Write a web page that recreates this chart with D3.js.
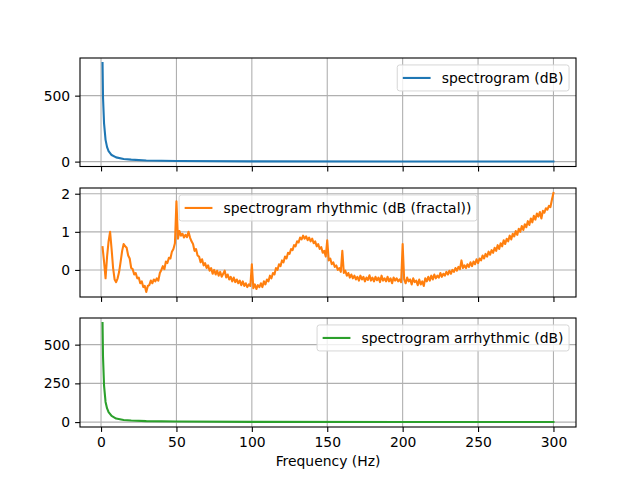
<!DOCTYPE html>
<html>
<head>
<meta charset="utf-8">
<script src="https://cdn.jsdelivr.net/npm/d3@7"></script>
<style>
  body { margin: 0; background: #fff; }
  text { font-family: "DejaVu Sans", sans-serif; }
</style>
</head>
<body>
<div id="chart"></div>
<script>
const width = 640;
const height = 480;
const fontSize = 13.9;

// total spectrogram (dB)
const spectrumFreqs = [1, 1.3, 2, 3, 4, 5, 7, 10, 15, 20, 30, 50, 100, 200, 300];
const spectrumValues = [748, 490, 290, 165, 110, 80, 50, 32, 20, 15, 9, 4, 1.5, 0.6, 0.3];

// arrhythmic part (dB)
const arrhythmicFreqs = [1, 1.3, 2, 3, 4, 5, 7, 10, 15, 20, 30, 50, 100, 200, 300];
const arrhythmicValues = [640, 425, 235, 130, 88, 65, 40, 23, 14, 10, 6, 3.5, 1.5, 0.6, 0.3];

// rhythmic part (dB (fractal)), one value per Hz from 1 to 300
const rhythmicValues = [
  0.6, 0.22, -0.22, 0.35, 0.75, 1.0, 0.55, 0.05, -0.25, -0.32,
  -0.22, -0.05, 0.22, 0.5, 0.68, 0.62, 0.58, 0.38, 0.3, 0.05,
  0.02, -0.12, -0.08, -0.22, -0.2, -0.35, -0.3, -0.45, -0.42, -0.58,
  -0.42, -0.4, -0.28, -0.35, -0.25, -0.3, -0.22, -0.28, -0.08, 0.0,
  0.1, 0.02, 0.22, 0.18, 0.32, 0.3, 0.48, 0.55, 0.7, 1.8,
  0.82, 1.02, 0.9, 0.95, 0.85, 0.92, 0.86, 1.0, 0.85, 0.75,
  0.68, 0.5, 0.55, 0.38, 0.35, 0.2, 0.28, 0.12, 0.18, 0.05,
  0.12, -0.02, 0.05, -0.1, 0.0, -0.12, -0.02, -0.15, -0.05, -0.18,
  -0.1, -0.02, -0.2, -0.12, -0.25, -0.18, -0.3, -0.2, -0.32, -0.25,
  -0.35, -0.28, -0.4, -0.3, -0.42, -0.35, -0.45, -0.38, -0.42, 0.15,
  -0.48, -0.38, -0.5, -0.4, -0.45, -0.35, -0.45, -0.3, -0.38, -0.25,
  -0.3, -0.15, -0.22, -0.08, -0.12, 0.05, 0.0, 0.15, 0.1, 0.25,
  0.2, 0.35, 0.3, 0.45, 0.42, 0.55, 0.52, 0.65, 0.62, 0.75,
  0.72, 0.85, 0.8, 0.9, 0.82, 0.88, 0.78, 0.85, 0.75, 0.82,
  0.7, 0.75, 0.62, 0.68, 0.55, 0.6, 0.45, 0.5, 0.35, 0.78,
  0.25, 0.3, 0.15, 0.2, 0.08, 0.12, 0.0, 0.05, -0.05, 0.5,
  -0.08, -0.02, -0.15, -0.08, -0.2, -0.12, -0.22, -0.15, -0.25, -0.18,
  -0.28, -0.15, -0.25, -0.18, -0.3, -0.2, -0.26, -0.14, -0.28, -0.2,
  -0.3, -0.18, -0.27, -0.2, -0.32, -0.15, -0.28, -0.22, -0.3, -0.18,
  -0.3, -0.22, -0.35, -0.2, -0.28, -0.22, -0.3, -0.25, -0.32, 0.68,
  -0.25, -0.35, -0.2, -0.3, -0.25, -0.38, -0.22, -0.32, -0.28, -0.4,
  -0.25, -0.38, -0.3, -0.42, -0.22, -0.3, -0.18, -0.28, -0.15, -0.25,
  -0.12, -0.22, -0.15, -0.2, -0.08, -0.18, -0.1, -0.15, -0.05, -0.12,
  -0.02, -0.1, 0.0, -0.05, 0.05, -0.02, 0.08, 0.02, 0.25, 0.05,
  0.12, 0.05, 0.15, 0.08, 0.2, 0.1, 0.22, 0.15, 0.28, 0.18,
  0.3, 0.25, 0.38, 0.3, 0.42, 0.35, 0.48, 0.4, 0.52, 0.45,
  0.58, 0.5, 0.65, 0.55, 0.7, 0.62, 0.78, 0.68, 0.82, 0.75,
  0.9, 0.8, 0.95, 0.88, 1.02, 0.92, 1.08, 1.0, 1.15, 1.05,
  1.2, 1.12, 1.28, 1.18, 1.35, 1.25, 1.42, 1.32, 1.48, 1.4,
  1.52, 1.35, 1.55, 1.5, 1.62, 1.58, 1.68, 1.65, 1.85, 2.02,
];
const rhythmicFreqs = d3.range(1, rhythmicValues.length + 1);

const xTicks = [0, 50, 100, 150, 200, 250, 300];

const panels = [
  {
    freqs: spectrumFreqs, values: spectrumValues, color: "#1f77b4",
    label: "spectrogram (dB)", yTicks: [0, 500], legend: "right",
    top: 58, bottom: 166.5,
  },
  {
    freqs: rhythmicFreqs, values: rhythmicValues, color: "#ff7f0e",
    label: "spectrogram rhythmic (dB (fractal))", yTicks: [0, 1, 2], legend: "center",
    top: 188, bottom: 297,
  },
  {
    freqs: arrhythmicFreqs, values: arrhythmicValues, color: "#2ca02c",
    label: "spectrogram arrhythmic (dB)", yTicks: [0, 250, 500], legend: "right",
    top: 318, bottom: 427,
  },
];

const left = 80;
const right = 576;

const svg = d3
  .select("#chart")
  .append("svg")
  .attr("width", width)
  .attr("height", height);

const xExtent = d3.extent(rhythmicFreqs);
const xPad = (xExtent[1] - xExtent[0]) * 0.05;
const x = d3
  .scaleLinear()
  .domain([xExtent[0] - xPad, xExtent[1] + xPad])
  .range([left, right]);

panels.forEach((p, idx) => {
  const isLast = idx === panels.length - 1;
  const [lo, hi] = d3.extent(p.values);
  const pad = (hi - lo) * 0.05;
  const y = d3
    .scaleLinear()
    .domain([lo - pad, hi + pad])
    .range([p.bottom, p.top]);

  const g = svg.append("g");

  // grid
  g.selectAll(".vgrid")
    .data(xTicks)
    .join("line")
    .attr("x1", (d) => x(d))
    .attr("x2", (d) => x(d))
    .attr("y1", p.top)
    .attr("y2", p.bottom)
    .attr("stroke", "#b0b0b0")
    .attr("stroke-width", 1.1);

  g.selectAll(".hgrid")
    .data(p.yTicks)
    .join("line")
    .attr("x1", left)
    .attr("x2", right)
    .attr("y1", (d) => y(d))
    .attr("y2", (d) => y(d))
    .attr("stroke", "#b0b0b0")
    .attr("stroke-width", 1.1);

  // data line
  const line = d3
    .line()
    .x((d) => x(d[0]))
    .y((d) => y(d[1]));

  g.append("path")
    .datum(d3.zip(p.freqs, p.values))
    .attr("d", line)
    .attr("fill", "none")
    .attr("stroke", p.color)
    .attr("stroke-width", 2.08)
    .attr("stroke-linejoin", "round")
    .attr("stroke-linecap", "square");

  // axes
  const xAxis = d3
    .axisBottom(x)
    .tickValues(xTicks)
    .tickSizeInner(4.9)
    .tickSizeOuter(0)
    .tickPadding(4.9)
    .tickFormat(isLast ? d3.format("d") : () => "");

  const yAxis = d3
    .axisLeft(y)
    .tickValues(p.yTicks)
    .tickSizeInner(4.9)
    .tickSizeOuter(0)
    .tickPadding(4.9)
    .tickFormat(d3.format("d"));

  const xg = g.append("g")
    .attr("transform", `translate(0,${p.bottom})`)
    .call(xAxis);
  const yg = g.append("g")
    .attr("transform", `translate(${left},0)`)
    .call(yAxis);

  [xg, yg].forEach((a) => {
    a.select(".domain").remove();
    a.selectAll(".tick line").attr("stroke", "#000").attr("stroke-width", 1.1);
    a.selectAll(".tick text")
      .attr("fill", "#000")
      .style("font-size", `${fontSize}px`)
      .style("font-family", "'DejaVu Sans', sans-serif");
  });

  // frame
  g.append("rect")
    .attr("x", left)
    .attr("y", p.top)
    .attr("width", right - left)
    .attr("height", p.bottom - p.top)
    .attr("fill", "none")
    .attr("stroke", "#000")
    .attr("stroke-width", 1.1);

  // legend
  const legend = g.append("g");
  const labelText = legend
    .append("text")
    .attr("font-size", fontSize)
    .attr("fill", "#000")
    .text(p.label);
  const textW = labelText.node().getComputedTextLength();
  const bp = 0.4 * fontSize;
  const handleLen = 2.0 * fontSize;
  const handlePad = 0.8 * fontSize;
  const boxW = bp + handleLen + handlePad + textW + bp;
  const boxH = 26;
  const boxX = p.legend === "right"
    ? right - 0.5 * fontSize - boxW
    : (left + right) / 2 - boxW / 2;
  const boxY = p.top + 0.5 * fontSize;

  legend
    .insert("rect", "text")
    .attr("x", boxX)
    .attr("y", boxY)
    .attr("width", boxW)
    .attr("height", boxH)
    .attr("rx", 2.5)
    .attr("fill", "rgba(255,255,255,0.8)")
    .attr("stroke", "#d6d6d6")
    .attr("stroke-width", 1);

  legend
    .insert("line", "text")
    .attr("x1", boxX + bp)
    .attr("x2", boxX + bp + handleLen)
    .attr("y1", boxY + boxH / 2)
    .attr("y2", boxY + boxH / 2)
    .attr("stroke", p.color)
    .attr("stroke-width", 2.08);

  labelText
    .attr("x", boxX + bp + handleLen + handlePad)
    .attr("y", boxY + boxH / 2 + 5);
});

svg.append("text")
  .attr("x", (left + right) / 2)
  .attr("y", 466)
  .attr("text-anchor", "middle")
  .attr("font-size", fontSize)
  .attr("fill", "#000")
  .text("Frequency (Hz)");
</script>
</body>
</html>
